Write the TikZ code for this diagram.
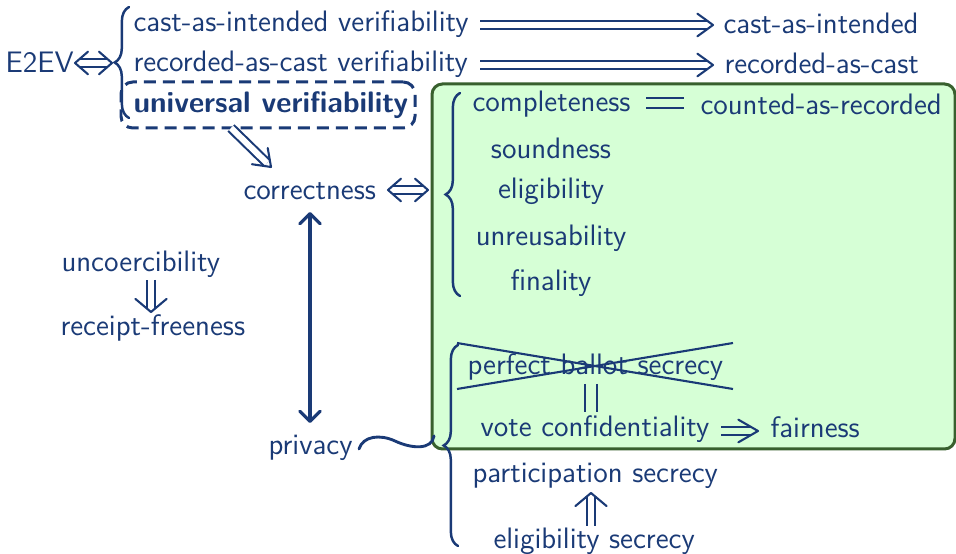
\documentclass[tikz,border=0pt]{standalone}
\usepackage{fontspec}
\usetikzlibrary{arrows.meta,decorations.pathreplacing,calc}
\definecolor{navy}{RGB}{26,58,118}
\definecolor{gfill}{RGB}{214,255,214}
\definecolor{gborder}{RGB}{56,96,46}
% double implication: #1 from, #2 tip, #3 wing length, #4 wing angle, #5 line shortening, #6 extra style
\newcommand\implarrow[6]{%
  \draw[dblline,#6] (#1) -- ($(#2)!#5!(#1)$);
  \draw[headline] ($(#2)!#3!#4:(#1)$) -- (#2) -- ($(#2)!#3!-#4:(#1)$);}
\newcommand\implboth[6]{%
  \draw[dblline,#6] ($(#1)!#5!(#2)$) -- ($(#2)!#5!(#1)$);
  \draw[headline] ($(#2)!#3!#4:(#1)$) -- (#2) -- ($(#2)!#3!-#4:(#1)$);
  \draw[headline] ($(#1)!#3!#4:(#2)$) -- (#1) -- ($(#1)!#3!-#4:(#2)$);}
\begin{document}
\begin{tikzpicture}[x=0.3836pt,y=-0.3836pt,
  every node/.style={inner sep=0pt, text=navy, font=\fontsize{11.35}{13.5}\sffamily},
  lbl/.style={anchor=base west},
  clbl/.style={anchor=base},
  dblline/.style={draw=navy, line width=0.8pt, double=white, double distance=2.3pt},
  headline/.style={draw=navy, line width=0.8pt, line join=round, line cap=round},
  brc/.style={draw=navy, line width=0.95pt, line cap=round, decorate, decoration={brace, amplitude=5.5pt, aspect=0.5}},
  plain/.style={draw=navy, line width=0.8pt},
  thick/.style={draw=navy, line width=1.1pt},
]
\useasboundingbox (0,0) rectangle (956,554);

% green box
\draw[draw=gborder, fill=gfill, line width=1.15pt, rounded corners=4pt] (432,84) rectangle (955,449);

% dashed box
\node[draw=navy, line width=1.15pt, dash pattern=on 4.6pt off 2.7pt, rounded corners=4.5pt,
      minimum width=294*0.3836pt, minimum height=46*0.3836pt] (uvbox) at (268,105) {};

% texts
\node[lbl] (e2ev) at (5,73) {E2EV};
\node[lbl] (civ) at (133,32) {cast-as-intended verifiability};
\node[lbl] (rcv) at (133,72) {recorded-as-cast verifiability};
\node[lbl, font=\fontsize{11.35}{13.5}\sffamily\bfseries] (uv) at (133,113) {universal verifiability};
\node[lbl] (ci) at (723,34) {cast-as-intended};
\node[lbl] (rc) at (724,74) {recorded-as-cast};
\node[lbl] (corr) at (243,200) {correctness};
\node[lbl] (compl) at (472,112) {completeness};
\node[lbl] (car) at (700,115) {counted-as-recorded};
\node[clbl] (sound) at (551,159) {soundness};
\node[clbl] (elig) at (551,199) {eligibility};
\node[clbl] (unreu) at (551,246) {unreusability};
\node[clbl] (fin) at (551,291) {finality};
\node[lbl] (unco) at (61,272) {uncoercibility};
\node[lbl] (rf) at (60,336) {receipt-freeness};
\node[lbl] (priv) at (268,455) {privacy};
\node[lbl] (pbs) at (467,375) {perfect ballot secrecy};
\node[lbl] (vc) at (480,437) {vote confidentiality};
\node[lbl] (fair) at (770,438) {fairness};
\node[lbl] (ps) at (472,483) {participation secrecy};
\node[lbl] (es) at (493,549) {eligibility secrecy};

% coordinates for connectors
\coordinate (e2evR) at (75,63);
\coordinate (braceL) at (112,63);
\coordinate (civR) at (480,25);
\coordinate (ciL) at (713,25);
\coordinate (rcvR) at (480,65);
\coordinate (rcL) at (713,65);
\coordinate (uvB) at (231,128);
\coordinate (corrT) at (271,167);
\coordinate (corrR) at (388,190);
\coordinate (gbraceL) at (428,190);
\coordinate (corrB) at (310,212);
\coordinate (privT) at (310,423);
\coordinate (uncoB) at (151,280);
\coordinate (rfT) at (151,312);
\coordinate (vcR) at (721,431);
\coordinate (fairL) at (758,431);
\coordinate (esT) at (591,526);
\coordinate (psB) at (591,493);

% braces
\draw[brc] (129,118) -- (129,7);
\draw[brc] (460,296) -- (460,93);
\draw[brc] (458,546) -- (458,345);

% arrows
\implboth{e2evR}{braceL}{6.6pt}{41}{1.76pt}{}
\implarrow{civR}{ciL}{7.4pt}{36}{2.1pt}{}
\implarrow{rcvR}{rcL}{7.4pt}{36}{2.1pt}{}
\implarrow{uvB}{corrT}{7.4pt}{36}{2.1pt}{}
\implboth{corrR}{gbraceL}{6.6pt}{41}{1.76pt}{}
\draw[draw=navy, line width=1.2pt, {Straight Barb[round]}-{Straight Barb[round]}] (corrB) -- (privT);
\implarrow{uncoB}{rfT}{7.8pt}{50}{1.3pt}{}
\implarrow{vcR}{fairL}{8.7pt}{30}{2.6pt}{double=gfill}
\implarrow{esT}{psB}{7.8pt}{50}{1.3pt}{}

% equals between completeness and counted-as-recorded
\draw[thick] (646,98) -- (684,98) (646,108) -- (684,108);
% || between perfect ballot secrecy and vote confidentiality
\draw[thick] (585,384) -- (585,412) (597,384) -- (597,412);

% crossing out
\draw[plain] (457,343) -- (733,389);
\draw[plain] (457,389) -- (733,343);

% wave from privacy to brace
\draw[thick, line cap=round] (359,449) .. controls (363,436) and (380,434) .. (395,441)
             .. controls (412,449) and (432,450) .. (434,436);
\end{tikzpicture}
\end{document}
